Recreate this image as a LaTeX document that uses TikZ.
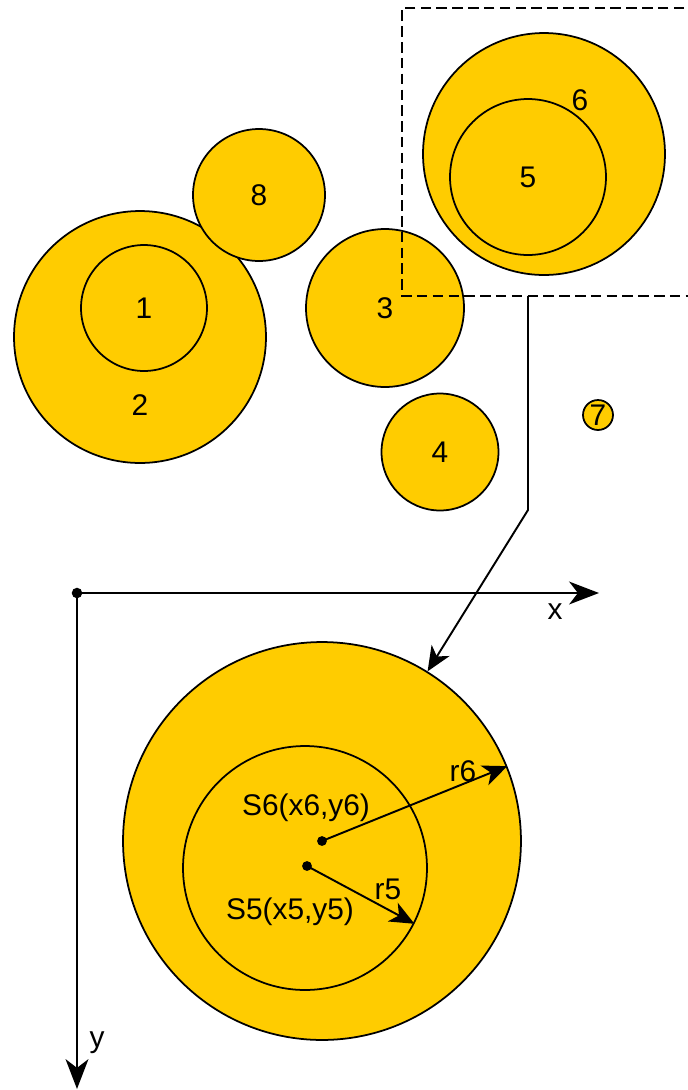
\documentclass[tikz,border=0pt]{standalone}
\usepackage{fontspec}
\setmainfont{Liberation Sans}
\usetikzlibrary{arrows.meta}
\definecolor{discfill}{RGB}{255,204,0}
\begin{document}
\begin{tikzpicture}[x=0.02cm,y=-0.02cm,font=\fontsize{17}{20}\selectfont,
ball/.style={circle,draw,fill=discfill,line width=1pt,inner sep=0pt},
ring/.style={circle,draw,line width=1pt,inner sep=0pt},
tip/.style={-{Stealth[length=14pt,width=12pt,inset=4pt]},line width=1.1pt},
axis/.style={-{Stealth[length=17pt,width=13pt,inset=5pt]},line width=1.2pt}]
\useasboundingbox (0,0) rectangle (688,1090);
%top view
\node[ball,minimum size=5.04cm](c2)at(140,337){};
\node[ring,minimum size=2.52cm](c1)at(144,308){1};
\node(l2)at(140,405){2};
\node[ball,minimum size=2.64cm](c8)at(259,195){8};
\node[ball,minimum size=3.16cm](c3)at(385,308){3};
\node[ball,minimum size=2.34cm](c4)at(440,452){4};
\node[ball,minimum size=0.6cm](c7)at(598,415){7};
\node[ball,minimum size=4.84cm](c6)at(544,154){};
\node[ring,minimum size=3.12cm](c5)at(528,177){5};
\node(l6)at(580,100){6};
%zoom frame
\draw[dashed,dash pattern=on 6pt off 3pt,line width=1pt](700,8)-|(402,296)--(700,296);
\coordinate(zoomfoot)at(528,296);
\coordinate(bend)at(528,510);
%axes
\coordinate(origin)at(77,593);
\coordinate(xend)at(599,593);
\coordinate(yend)at(77,1089);
\draw[axis](origin)--(xend);
\draw[axis](origin)--(yend);
\fill(origin)circle(3pt);
\node(xlab)at(555,612){x};
\node(ylab)at(97,1043){y};
%detail
\node[ball,minimum size=7.96cm](big)at(322,841){};
\node[ring,minimum size=4.88cm](inner)at(305,868){};
\draw[tip](zoomfoot)--(bend)--(big);
\coordinate(s6)at(322,841);
\coordinate(s5)at(307,866);
\draw[tip](s6)--(big.22);
\draw[tip](s5)--(inner.-27);
\fill(s6)circle(2.8pt);
\fill(s5)circle(2.8pt);
\node(s6lab)at(306,808){S6(x6,y6)};
\node(s5lab)at(290,912){S5(x5,y5)};
\node(r6lab)at(463,771){r6};
\node(r5lab)at(388,889){r5};
\end{tikzpicture}
\end{document}
